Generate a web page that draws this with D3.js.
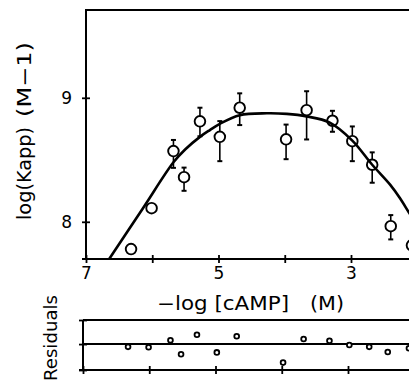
<!DOCTYPE html>
<html>
<head>
<meta charset="utf-8">
<script src="https://cdn.jsdelivr.net/npm/d3@7"></script>
<style>
  body { margin: 0; background: #fff; }
  text { font-family: "DejaVu Sans", sans-serif; fill: #000; }
</style>
</head>
<body>
<div id="chart"></div>
<script>
// data
var pX = [6.32, 6.01, 5.68, 5.52, 5.28, 4.98, 4.68, 3.98, 3.67, 3.28, 2.98, 2.68, 2.40, 2.08];
var pY = [7.78, 8.11, 8.57, 8.36, 8.81, 8.685, 8.92, 8.665, 8.90, 8.815, 8.65, 8.46, 7.965, 7.81];
var errUp = [0, 0, 0.09, 0.077, 0.11, 0.127, 0.116, 0.119, 0.153, 0.08, 0.119, 0.10, 0.089, 0];
var errDown = [0, 0, 0.135, 0.11, 0.12, 0.196, 0.14, 0.16, 0.236, 0.089, 0.161, 0.145, 0.107, 0];
var resid = [-0.03, -0.035, 0.04, -0.11, 0.10, -0.09, 0.085, -0.20, 0.055, 0.035, -0.01, -0.03, -0.085, -0.045];

// fitted curve, traced
var curveX = [6.65, 6.14, 5.68, 5.50, 5.28, 5.13, 4.98, 4.68, 4.27, 3.97, 3.67, 3.32, 2.98, 2.68, 2.41, 2.26, 2.12, 2.00];
var curveY = [7.70, 8.11, 8.48, 8.585, 8.685, 8.74, 8.79, 8.86, 8.875, 8.87, 8.85, 8.80, 8.655, 8.46, 8.30, 8.19, 8.07, 7.97];

var xTicks = [7, 6, 5, 4, 3, 2];
var xLabels = { 7: "7", 5: "5", 3: "3" };
var yTicks = [8, 9];

var width = 409, height = 383;

var svg = d3.select("#chart").append("svg")
  .attr("width", width)
  .attr("height", height);

svg.append("rect").attr("width", width).attr("height", height).attr("fill", "#fff");

// scales
var x = d3.scaleLinear().domain([7, 2]).range([86, 417.25]);
var y = d3.scaleLinear().domain([7.7, 9.7]).range([259, 11]);
var xr = d3.scaleLinear().domain([7, 2]).range([83, 414.25]);
var yr = d3.scaleLinear().domain([-0.28, 0.26]).range([370, 320]);

// ---- main panel ----
var main = svg.append("g");

main.append("clipPath").attr("id", "clipMain")
  .append("rect").attr("x", 86).attr("y", 10).attr("width", 340).attr("height", 249);

// frame: top and left
main.append("line").attr("x1", 85).attr("x2", width).attr("y1", 10).attr("y2", 10)
  .attr("stroke", "#000").attr("stroke-width", 2);

// bottom axis
var xAxis = main.append("g")
  .attr("transform", "translate(0,259)")
  .call(d3.axisBottom(x).tickValues(xTicks).tickSize(4).tickFormat(function (d) { return xLabels[d] || ""; }));
xAxis.select(".domain").remove();
xAxis.append("line").attr("x1", 82).attr("x2", width).attr("stroke", "#000").attr("stroke-width", 2);
xAxis.selectAll(".tick line").attr("y1", -4).attr("y2", 4).attr("stroke-width", 1.8);
xAxis.selectAll(".tick text")
  .attr("y", 20).attr("dy", 0)
  .style("font-size", "17px").style("font-family", "DejaVu Sans");

// left axis
var yAxis = main.append("g")
  .attr("transform", "translate(86,0)")
  .call(d3.axisLeft(y).tickValues(yTicks).tickSize(4).tickFormat(d3.format("d")));
yAxis.select(".domain").remove();
yAxis.append("line").attr("y1", 10).attr("y2", 260).attr("stroke", "#000").attr("stroke-width", 2);
yAxis.selectAll(".tick line").attr("x1", -4).attr("x2", 4).attr("stroke-width", 1.8);
yAxis.selectAll(".tick text")
  .attr("x", -14).attr("dy", "0.36em")
  .style("font-size", "17px").style("font-family", "DejaVu Sans");

// fitted line
var line = d3.line()
  .x(function (d) { return x(d[0]); })
  .y(function (d) { return y(d[1]); })
  .curve(d3.curveCatmullRom.alpha(0.5));

main.append("path")
  .datum(curveX.map(function (v, i) { return [v, curveY[i]]; }))
  .attr("clip-path", "url(#clipMain)")
  .attr("fill", "none")
  .attr("stroke", "#000")
  .attr("stroke-width", 2.6)
  .attr("d", line);

// points with error bars
var pts = pX.map(function (v, i) {
  return { x: v, y: pY[i], up: errUp[i], down: errDown[i], r: resid[i] };
});
var R = 5.3;

var pt = main.selectAll(".pt").data(pts).enter().append("g").attr("class", "pt");

pt.filter(function (d) { return d.up > 0; }).each(function (d) {
  var g = d3.select(this), cx = x(d.x), cy = y(d.y);
  var top = y(d.y + d.up), bot = y(d.y - d.down);
  g.append("line").attr("x1", cx).attr("x2", cx).attr("y1", cy - R).attr("y2", top)
    .attr("stroke", "#000").attr("stroke-width", 1.6);
  g.append("line").attr("x1", cx).attr("x2", cx).attr("y1", cy + R).attr("y2", bot)
    .attr("stroke", "#000").attr("stroke-width", 1.6);
  g.append("line").attr("x1", cx - 2.5).attr("x2", cx + 2.5).attr("y1", top).attr("y2", top)
    .attr("stroke", "#000").attr("stroke-width", 2);
  g.append("line").attr("x1", cx - 2.5).attr("x2", cx + 2.5).attr("y1", bot).attr("y2", bot)
    .attr("stroke", "#000").attr("stroke-width", 2);
});

pt.append("circle")
  .attr("cx", function (d) { return x(d.x); })
  .attr("cy", function (d) { return y(d.y); })
  .attr("r", R)
  .attr("fill", "none")
  .attr("stroke", "#000")
  .attr("stroke-width", 1.9);

// axis titles
main.append("text")
  .attr("x", 157).attr("y", 310)
  .attr("textLength", 132).attr("lengthAdjust", "spacingAndGlyphs")
  .style("font-size", "19px")
  .text("\u2212log [cAMP]");
main.append("text")
  .attr("x", 310).attr("y", 310)
  .attr("textLength", 34).attr("lengthAdjust", "spacingAndGlyphs")
  .style("font-size", "19px")
  .text("(M)");

main.append("text")
  .attr("transform", "translate(31,220) rotate(-90)")
  .attr("textLength", 93).attr("lengthAdjust", "spacingAndGlyphs")
  .style("font-size", "19px")
  .text("log(Kapp)");
main.append("text")
  .attr("transform", "translate(31,117) rotate(-90)")
  .attr("textLength", 75).attr("lengthAdjust", "spacingAndGlyphs")
  .style("font-size", "19px")
  .text("(M\u22121)");

// ---- residual panel ----
var res = svg.append("g");

res.append("line").attr("x1", 83).attr("x2", width).attr("y1", yr(0.26)).attr("y2", yr(0.26))
  .attr("stroke", "#000").attr("stroke-width", 2);
res.append("line").attr("x1", 83).attr("x2", width).attr("y1", yr(0)).attr("y2", yr(0))
  .attr("stroke", "#000").attr("stroke-width", 2);

var rAxis = res.append("g")
  .attr("transform", "translate(0,370)")
  .call(d3.axisBottom(xr).tickValues(xTicks).tickSize(4).tickFormat(""));
rAxis.select(".domain").remove();
rAxis.append("line").attr("x1", 79).attr("x2", width).attr("stroke", "#000").attr("stroke-width", 2);
rAxis.selectAll(".tick line").attr("y1", -4).attr("y2", 4).attr("stroke-width", 1.8);

var rLeft = res.append("g")
  .attr("transform", "translate(83,0)")
  .call(d3.axisLeft(yr).tickValues([-0.28, 0, 0.26]).tickSize(4).tickFormat(""));
rLeft.select(".domain").remove();
rLeft.append("line").attr("y1", 320).attr("y2", 370).attr("stroke", "#000").attr("stroke-width", 2);
rLeft.selectAll(".tick line").attr("x1", -4).attr("x2", 4).attr("stroke-width", 1.8);

res.selectAll(".rpt").data(pts).enter().append("circle")
  .attr("class", "rpt")
  .attr("cx", function (d) { return xr(d.x); })
  .attr("cy", function (d) { return yr(d.r); })
  .attr("r", 2.4)
  .attr("fill", "#fff")
  .attr("stroke", "#000")
  .attr("stroke-width", 1.8);

// kept fully inside the page
res.append("text")
  .attr("transform", "translate(57,381) rotate(-90)")
  .attr("textLength", 86).attr("lengthAdjust", "spacingAndGlyphs")
  .style("font-size", "18px")
  .text("Residuals");
</script>
</body>
</html>
